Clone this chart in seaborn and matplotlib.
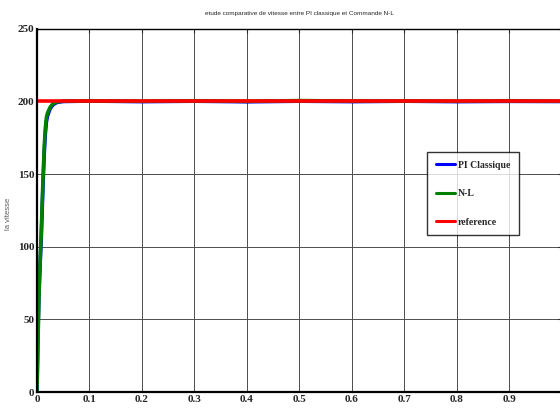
import pandas as pd
import seaborn as sns
import matplotlib.pyplot as plt

# temps (s) et vitesse
t_pi = [0, 0.002, 0.004, 0.006, 0.008, 0.010, 0.012, 0.014, 0.016, 0.018, 0.020,
        0.025, 0.030, 0.035, 0.040, 0.050, 0.10, 0.20, 0.30, 0.40, 0.50, 0.60,
        0.70, 0.80, 0.90, 1.0]
v_pi = [0, 42, 70, 88, 104, 126, 147, 165, 178, 186, 190,
        195, 197.5, 198.8, 199.5, 200, 200.3, 199.9, 200.2, 199.8, 200.2, 199.9,
        200.2, 199.9, 200.1, 200]

t_nl = [0, 0.002, 0.004, 0.006, 0.008, 0.010, 0.012, 0.014, 0.016, 0.018, 0.020,
        0.025, 0.030, 0.035, 0.040, 0.050, 0.10, 0.20, 0.30, 0.40, 0.50, 0.60,
        0.70, 0.80, 0.90, 1.0]
v_nl = [0, 35, 68, 90, 108, 131, 152, 170, 182, 189, 192,
        196, 198.3, 199.3, 199.8, 200.2, 200.5, 200.2, 200.5, 200.1, 200.6, 200.3,
        200.4, 200.2, 200.5, 200.2]

t_ref = [0, 1.0]
v_ref = [200, 200]

x_ticks = [0, 0.1, 0.2, 0.3, 0.4, 0.5, 0.6, 0.7, 0.8, 0.9]
y_ticks = [0, 50, 100, 150, 200, 250]

df = pd.concat([
    pd.DataFrame({"t": t_pi, "v": v_pi, "serie": "PI Classique"}),
    pd.DataFrame({"t": t_nl, "v": v_nl, "serie": "N-L"}),
    pd.DataFrame({"t": t_ref, "v": v_ref, "serie": "reference"}),
])

sns.set_style("white")
plt.rcParams["font.family"] = ["Liberation Serif", "DejaVu Serif"]

fig = plt.figure(figsize=(5.6, 4.12), dpi=100)
ax = fig.add_axes([0.066, 0.0485, 0.9375, 0.8815])

sns.lineplot(data=df, x="t", y="v", hue="serie",
             palette={"PI Classique": "#0000ff", "N-L": "#008000", "reference": "#ff0000"},
             linewidth=2.6, ax=ax, legend=True)
for line in ax.get_lines():
    if line.get_label() == "reference":
        line.set_zorder(5)
        line.set_linewidth(3.0)

ax.set_xlim(0, 1)
ax.set_ylim(0, 250)
ax.set_xticks(x_ticks)
ax.set_yticks(y_ticks)
ax.set_xticklabels([("%g" % x) for x in x_ticks], fontweight="bold", fontsize=8)
ax.set_yticklabels([str(y) for y in y_ticks], fontweight="bold", fontsize=8)
ax.tick_params(direction="in", length=3, width=0.8, top=True, right=True, pad=2)
ax.grid(True, color="0.3", linewidth=0.7)

for s in ["left", "bottom"]:
    ax.spines[s].set_linewidth(1.6)
ax.spines["top"].set_linewidth(1.0)
for s in ax.spines.values():
    s.set_color("black")

ax.set_xlabel("")
ax.set_ylabel("la vitesse", fontsize=5.5, color="0.35",
              family=["Liberation Sans", "DejaVu Sans"])
ax.yaxis.set_label_coords(-0.048, 0.49)
ax.set_title("etude comparative de vitesse entre PI classique et Commande N-L",
             fontsize=4.6, family=["Liberation Sans", "DejaVu Sans"], pad=10)

leg = ax.legend(loc="upper left", bbox_to_anchor=(0.743, 0.661), borderaxespad=0,
                frameon=True, fancybox=False, edgecolor="black", handlelength=2.0,
                labelspacing=2.0, borderpad=0.9, handletextpad=0.3,
                prop={"family": "Liberation Serif", "weight": "bold", "size": 7})
leg.get_frame().set_linewidth(1.0)
for h in leg.get_lines():
    h.set_linewidth(2.2)

fig.savefig("out.png", dpi=100)
